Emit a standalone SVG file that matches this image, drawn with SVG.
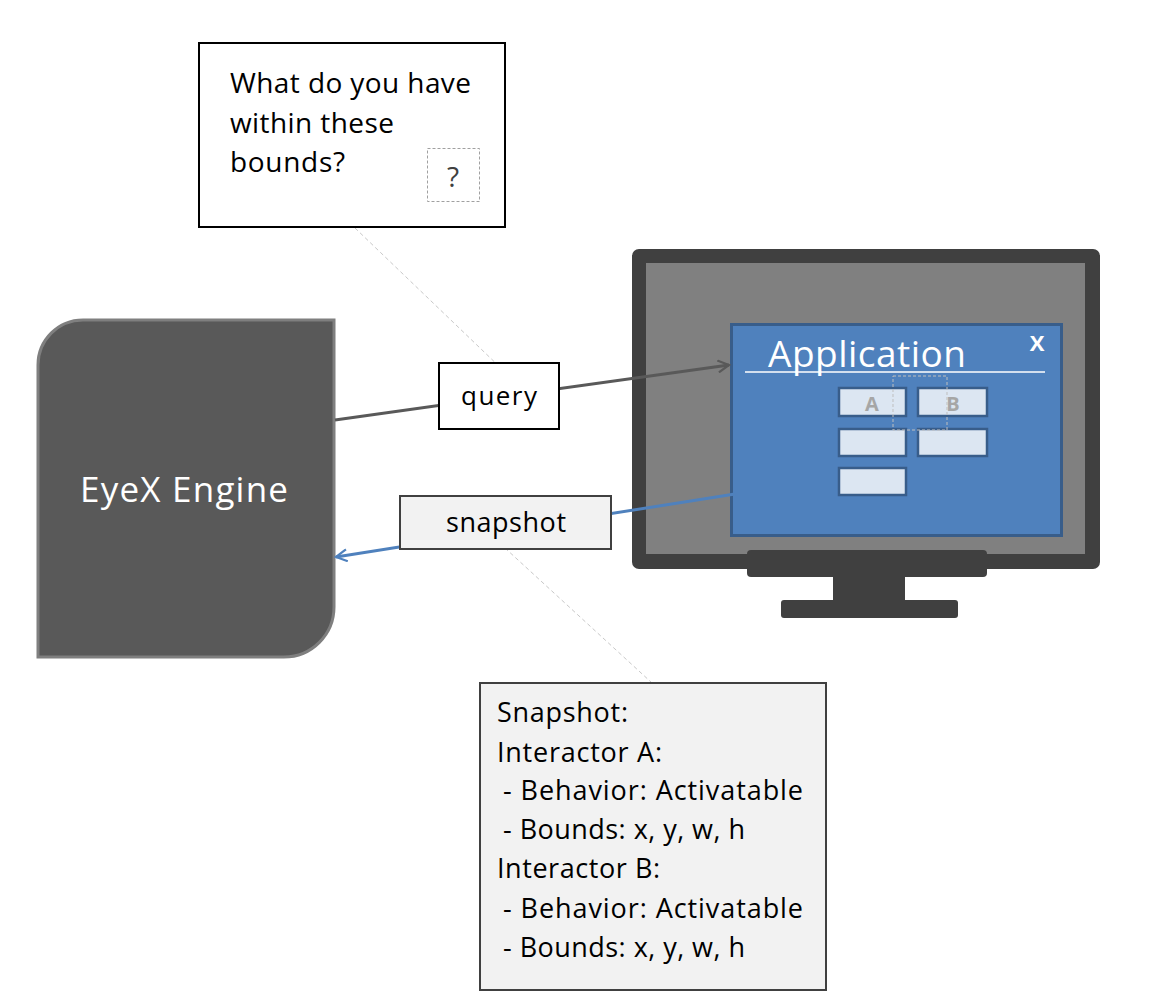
<svg xmlns="http://www.w3.org/2000/svg" width="1151" height="995" viewBox="0 0 1151 995">
<style>
text{font-family:"Open Sans","Liberation Sans",sans-serif}
.callout{stroke:#C8C8C8;stroke-width:1;stroke-dasharray:4 3;fill:none}
.lbl{font-size:26px;fill:#000}
.info{font-size:27px;fill:#000}
.item{fill:#DCE6F2;stroke:#385D8A;stroke-width:2.5}
.itl{font-size:20px;font-weight:bold;fill:#A6A6A6;text-anchor:middle}
</style>
<defs>
<marker id="arrGray" viewBox="0 0 14 14" refX="12" refY="7" markerWidth="14" markerHeight="14" markerUnits="userSpaceOnUse" orient="auto">
<path d="M1,1 L12,7 L1,13" fill="none" stroke="#595959" stroke-width="2.2"/>
</marker>
<marker id="arrBlue" viewBox="0 0 14 14" refX="12" refY="7" markerWidth="14" markerHeight="14" markerUnits="userSpaceOnUse" orient="auto">
<path d="M1,1 L12,7 L1,13" fill="none" stroke="#4F81BD" stroke-width="2.2"/>
</marker>
</defs>
<rect width="1151" height="995" fill="#fff"/>

<g id="monitor">
<rect x="632" y="249" width="468" height="320" rx="7" fill="#404040"/>
<rect x="646" y="263" width="439" height="291" fill="#808080"/>
<rect x="747" y="550" width="240" height="27" rx="4" fill="#404040"/>
<rect x="833" y="576" width="72" height="25" fill="#404040"/>
<rect x="781" y="600" width="177" height="18" rx="3" fill="#404040"/>
</g>

<g id="application">
<rect x="731.5" y="324.5" width="330" height="211" fill="#4F81BD" stroke="#385D8A" stroke-width="3"/>
<text x="768" y="367" font-size="37" fill="#fff" textLength="198">Application</text>
<line x1="745" y1="372" x2="1045" y2="372" stroke="#fff" stroke-width="1.5"/>
<text x="1037" y="351" font-size="22" font-weight="bold" fill="#fff" text-anchor="middle">X</text>
<rect class="item" x="839" y="388" width="67" height="28"/>
<rect class="item" x="918" y="388" width="69" height="28"/>
<rect class="item" x="839" y="429" width="67" height="27"/>
<rect class="item" x="918" y="429" width="69" height="27"/>
<rect class="item" x="839" y="468" width="67" height="27"/>
<text class="itl" x="872" y="411">A</text>
<text class="itl" x="953" y="411">B</text>
<rect x="893" y="376" width="54" height="54" fill="none" stroke="#BFBFBF" stroke-width="1" stroke-dasharray="3 2"/>
</g>

<g id="eyex-engine">
<path d="M38,365 A45,45 0 0 1 83,320 L334,320 L334,607 A50,50 0 0 1 284,657 L38,657 Z" fill="#595959" stroke="#7F7F7F" stroke-width="3"/>
<text x="184" y="502" font-size="35" fill="#fff" text-anchor="middle" textLength="208">EyeX Engine</text>
</g>

<g id="connectors">
<line class="callout" x1="355" y1="228" x2="505" y2="372"/>
<line class="callout" x1="505" y1="548" x2="652" y2="683"/>
<line x1="335" y1="420" x2="729" y2="365" stroke="#595959" stroke-width="3" marker-end="url(#arrGray)"/>
<line x1="735" y1="494" x2="336" y2="557" stroke="#4F81BD" stroke-width="3" marker-end="url(#arrBlue)"/>
</g>

<g id="question">
<rect x="199" y="43" width="306" height="184" fill="#fff" stroke="#000" stroke-width="2"/>
<text x="230" y="93" font-size="28" fill="#000" textLength="241">What do you have</text>
<text x="230" y="133" font-size="28" fill="#000" textLength="164">within these</text>
<text x="230" y="172" font-size="28" fill="#000" textLength="115">bounds?</text>
<rect x="427.5" y="148.5" width="52" height="53" fill="#fff" stroke="#A0A0A0" stroke-width="1" stroke-dasharray="3 2"/>
<text x="453" y="187" font-size="28" fill="#404040" text-anchor="middle">?</text>
</g>

<g id="query-label">
<rect x="439" y="363" width="120" height="66" fill="#fff" stroke="#000" stroke-width="2"/>
<text class="lbl" x="499" y="405" text-anchor="middle" fill="#404040" textLength="76">query</text>
</g>

<g id="snapshot-label">
<rect x="400" y="496" width="211" height="53" fill="#F2F2F2" stroke="#404040" stroke-width="2"/>
<text x="506" y="532" font-size="27" fill="#000" text-anchor="middle" textLength="120">snapshot</text>
</g>

<g id="snapshot-info">
<rect x="480" y="683" width="346" height="307" fill="#F2F2F2" stroke="#404040" stroke-width="2"/>
<text class="info" x="497" y="722" textLength="131">Snapshot:</text>
<text class="info" x="497" y="762" textLength="165">Interactor A:</text>
<text class="info" x="503" y="800" textLength="300">- Behavior: Activatable</text>
<text class="info" x="503" y="839" textLength="242">- Bounds: x, y, w, h</text>
<text class="info" x="497" y="878" textLength="163">Interactor B:</text>
<text class="info" x="503" y="918" textLength="300">- Behavior: Activatable</text>
<text class="info" x="503" y="957" textLength="242">- Bounds: x, y, w, h</text>
</g>
</svg>
